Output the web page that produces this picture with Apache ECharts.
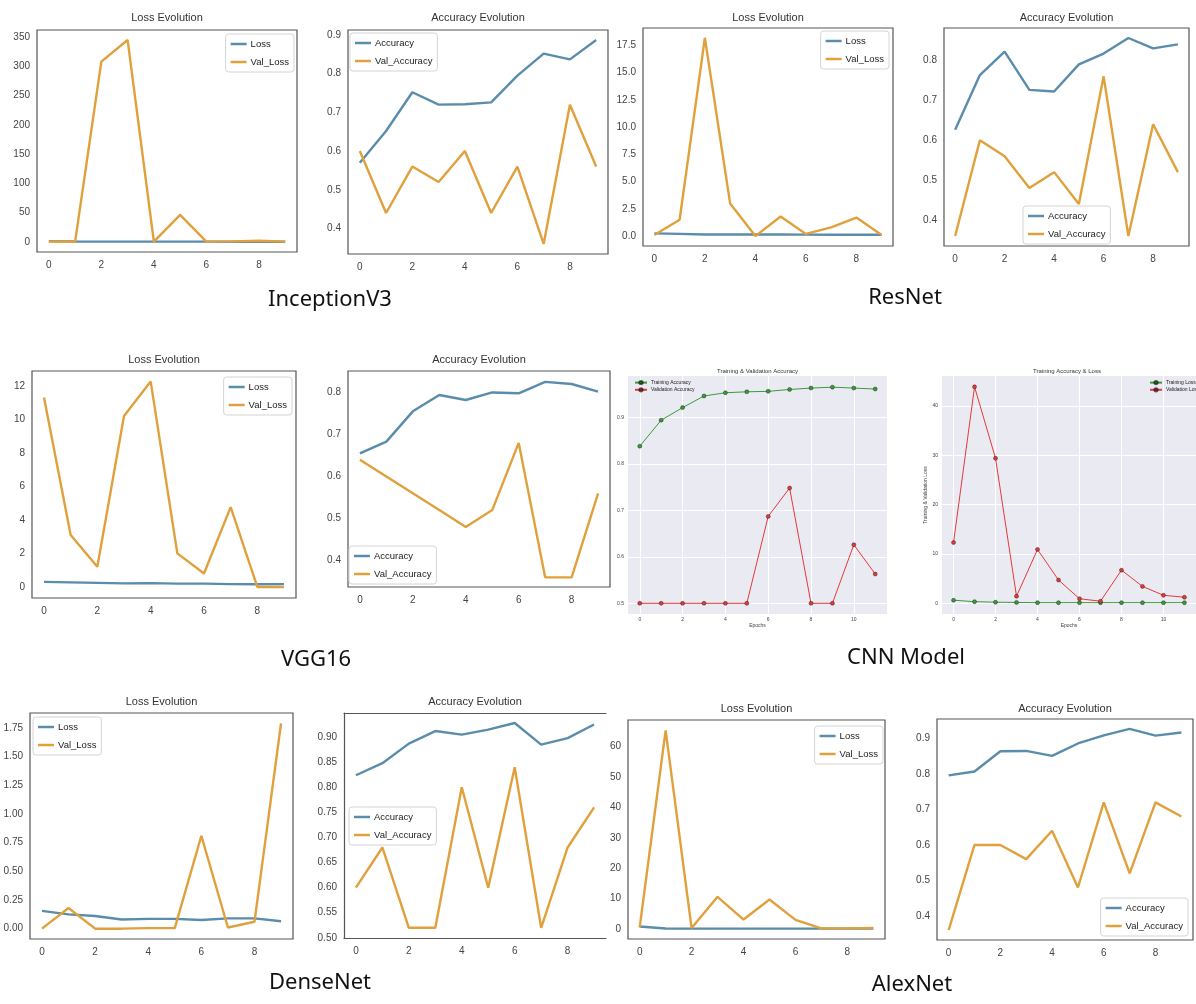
<!DOCTYPE html>
<html>
<head>
<meta charset="utf-8">
<script src="https://cdn.jsdelivr.net/npm/echarts@6/dist/echarts.min.js"></script>
<style>
  html, body { margin: 0; padding: 0; background: #fff; }
  #main { width: 1196px; height: 1004px; }
</style>
</head>
<body>
<div id="main"></div>
<script>
// epochs on the x axis
const epochs10 = [0, 1, 2, 3, 4, 5, 6, 7, 8, 9];
const epochs12 = [0, 1, 2, 3, 4, 5, 6, 7, 8, 9, 10, 11];
const xTicks10 = [0, 2, 4, 6, 8];
const xTicks12 = [0, 2, 4, 6, 8, 10];

// InceptionV3
const inceptionLoss = [1.2, 0.6, 0.5, 0.5, 0.4, 0.4, 0.4, 0.3, 0.3, 0.3];
const inceptionValLoss = [0.6, 0.1, 308, 345, 0.3, 46, 0.4, 0.9, 1.8, 0.4];
const inceptionAcc = [0.57, 0.652, 0.752, 0.72, 0.721, 0.726, 0.795, 0.852, 0.837, 0.887];
const inceptionValAcc = [0.6, 0.44, 0.56, 0.52, 0.6, 0.44, 0.56, 0.36, 0.72, 0.56];
const inceptionLossTicks = [0, 50, 100, 150, 200, 250, 300, 350];
const inceptionAccTicks = [0.4, 0.5, 0.6, 0.7, 0.8, 0.9];

// ResNet
const resnetLoss = [0.25, 0.2, 0.15, 0.15, 0.15, 0.14, 0.13, 0.12, 0.12, 0.12];
const resnetValLoss = [0.1, 1.5, 18.2, 3.0, 0.0, 1.8, 0.2, 0.8, 1.7, 0.1];
const resnetAcc = [0.626, 0.763, 0.822, 0.726, 0.722, 0.79, 0.817, 0.856, 0.83, 0.84];
const resnetValAcc = [0.36, 0.6, 0.56, 0.48, 0.52, 0.44, 0.76, 0.36, 0.64, 0.52];
const resnetLossTicks = [0, 2.5, 5, 7.5, 10, 12.5, 15, 17.5];
const resnetAccTicks = [0.4, 0.5, 0.6, 0.7, 0.8];

// VGG16
const vggLoss = [0.3, 0.27, 0.24, 0.21, 0.23, 0.2, 0.2, 0.17, 0.16, 0.17];
const vggValLoss = [11.3, 3.1, 1.2, 10.2, 12.26, 2.0, 0.8, 4.76, 0.0, 0.0];
const vggAcc = [0.655, 0.683, 0.755, 0.794, 0.782, 0.8, 0.798, 0.825, 0.82, 0.802];
const vggValAcc = [0.64, 0.6, 0.56, 0.52, 0.48, 0.52, 0.68, 0.36, 0.36, 0.56];
const vggLossTicks = [0, 2, 4, 6, 8, 10, 12];
const vggAccTicks = [0.4, 0.5, 0.6, 0.7, 0.8];

// CNN model
const cnnAcc = [0.838, 0.894, 0.921, 0.946, 0.953, 0.955, 0.956, 0.96, 0.963, 0.965, 0.963, 0.961];
const cnnValAcc = [0.5, 0.5, 0.5, 0.5, 0.5, 0.5, 0.687, 0.748, 0.5, 0.5, 0.626, 0.563];
const cnnLoss = [0.6, 0.3, 0.2, 0.15, 0.1, 0.1, 0.1, 0.1, 0.1, 0.1, 0.1, 0.1];
const cnnValLoss = [12.3, 43.9, 29.4, 1.4, 10.9, 4.7, 0.9, 0.4, 6.7, 3.4, 1.6, 1.2];
const cnnAccTicks = [0.5, 0.6, 0.7, 0.8, 0.9];
const cnnLossTicks = [0, 10, 20, 30, 40];

// DenseNet
const densenetLoss = [0.155, 0.125, 0.11, 0.08, 0.085, 0.085, 0.075, 0.09, 0.09, 0.065];
const densenetValLoss = [0.0, 0.18, 0.0, 0.0, 0.005, 0.005, 0.81, 0.01, 0.06, 1.79];
const densenetAcc = [0.824, 0.848, 0.887, 0.912, 0.905, 0.915, 0.928, 0.885, 0.898, 0.925];
const densenetValAcc = [0.6, 0.68, 0.52, 0.52, 0.8, 0.6, 0.84, 0.52, 0.68, 0.76];
const densenetLossTicks = [0, 0.25, 0.5, 0.75, 1.0, 1.25, 1.5, 1.75];
const densenetAccTicks = [0.5, 0.55, 0.6, 0.65, 0.7, 0.75, 0.8, 0.85, 0.9];

// AlexNet
const alexnetLoss = [0.8, 0.15, 0.1, 0.1, 0.1, 0.1, 0.1, 0.1, 0.1, 0.1];
const alexnetValLoss = [0.5, 65.4, 0.3, 10.6, 3.1, 9.7, 3.0, 0.2, 0.2, 0.3];
const alexnetAcc = [0.796, 0.807, 0.864, 0.865, 0.851, 0.886, 0.909, 0.927, 0.908, 0.917];
const alexnetValAcc = [0.36, 0.6, 0.6, 0.56, 0.64, 0.48, 0.72, 0.52, 0.72, 0.68];
const alexnetLossTicks = [0, 10, 20, 30, 40, 50, 60];
const alexnetAccTicks = [0.4, 0.5, 0.6, 0.7, 0.8, 0.9];

const modelNames = ['InceptionV3', 'ResNet', 'VGG16', 'CNN Model', 'DenseNet', 'AlexNet'];

const BLUE = '#5a8cab';
const ORANGE = '#e0a03c';
const GREEN = '#3c9a3c';
const RED = '#e23a3a';
const FONT = 'Liberation Sans';

// layout of every small plot (legend: left or right edge, top)
const panels = [
  { box: [37, 30, 297, 252], titleY: 18, title: 'Loss Evolution', yRange: [-17.3, 362], yTicks: inceptionLossTicks, dec: 0,
    lines: [['Loss', inceptionLoss, BLUE], ['Val_Loss', inceptionValLoss, ORANGE]], legend: { right: 1196 - 294, top: 34 } },
  { box: [348, 30, 608, 254], titleY: 18, title: 'Accuracy Evolution', yRange: [0.334, 0.913], yTicks: inceptionAccTicks, dec: 1,
    lines: [['Accuracy', inceptionAcc, BLUE], ['Val_Accuracy', inceptionValAcc, ORANGE]], legend: { left: 350, top: 33 } },
  { box: [643, 28, 893, 246], titleY: 18, title: 'Loss Evolution', yRange: [-0.91, 19.1], yTicks: resnetLossTicks, dec: 1,
    lines: [['Loss', resnetLoss, BLUE], ['Val_Loss', resnetValLoss, ORANGE]], legend: { right: 1196 - 889, top: 31 } },
  { box: [944, 28, 1189, 246], titleY: 18, title: 'Accuracy Evolution', yRange: [0.335, 0.881], yTicks: resnetAccTicks, dec: 1,
    lines: [['Accuracy', resnetAcc, BLUE], ['Val_Accuracy', resnetValAcc, ORANGE]], legend: { left: 1023, top: 206 } },
  { box: [32, 371, 296, 598], titleY: 360, title: 'Loss Evolution', yRange: [-0.66, 12.88], yTicks: vggLossTicks, dec: 0,
    lines: [['Loss', vggLoss, BLUE], ['Val_Loss', vggValLoss, ORANGE]], legend: { right: 1196 - 292, top: 377 } },
  { box: [348, 371, 610, 587], titleY: 360, title: 'Accuracy Evolution', yRange: [0.337, 0.851], yTicks: vggAccTicks, dec: 1,
    lines: [['Accuracy', vggAcc, BLUE], ['Val_Accuracy', vggValAcc, ORANGE]], legend: { left: 349, top: 546 } },
  { cnn: true, box: [628, 376, 887, 614], titleY: 371, title: 'Training & Validation Accuracy', yRange: [0.477, 0.989], yTicks: cnnAccTicks, dec: 1,
    lines: [['Training Accuracy', cnnAcc, GREEN], ['Validation Accuracy', cnnValAcc, RED]], legend: { left: 631, top: 378 } },
  { cnn: true, box: [942, 376, 1203, 614], titleY: 371, titleX: 1067, title: 'Training Accuracy & Loss', yRange: [-2.2, 46.1], yTicks: cnnLossTicks, dec: 0,
    yName: 'Training & Validation Loss',
    lines: [['Training Loss', cnnLoss, GREEN], ['Validation Loss', cnnValLoss, RED]], legend: { left: 1146, top: 378 } },
  { box: [30, 713, 293, 939], titleY: 702, title: 'Loss Evolution', yRange: [-0.09, 1.88], yTicks: densenetLossTicks, dec: 2,
    lines: [['Loss', densenetLoss, BLUE], ['Val_Loss', densenetValLoss, ORANGE]], legend: { left: 33, top: 717 } },
  { box: [344, 713, 606, 938], openRight: true, titleY: 702, title: 'Accuracy Evolution', yRange: [0.4996, 0.948], yTicks: densenetAccTicks, dec: 2,
    lines: [['Accuracy', densenetAcc, BLUE], ['Val_Accuracy', densenetValAcc, ORANGE]], legend: { left: 349, top: 807 } },
  { box: [628, 720, 885, 939], titleY: 709, title: 'Loss Evolution', yRange: [-3.3, 68.8], yTicks: alexnetLossTicks, dec: 0,
    lines: [['Loss', alexnetLoss, BLUE], ['Val_Loss', alexnetValLoss, ORANGE]], legend: { right: 1196 - 883, top: 726 } },
  { box: [937, 719, 1193, 940], titleY: 709, title: 'Accuracy Evolution', yRange: [0.332, 0.955], yTicks: alexnetAccTicks, dec: 1,
    lines: [['Accuracy', alexnetAcc, BLUE], ['Val_Accuracy', alexnetValAcc, ORANGE]], legend: { right: 1196 - 1188, top: 898 } }
];

// where the model names sit under each pair of plots
const nameSpots = [[330, 300], [905, 298], [316, 660], [906, 658], [320, 983], [912, 985]];

const option = {
  animation: false,
  grid: [], xAxis: [], yAxis: [], series: [], legend: [], graphic: []
};

panels.forEach((p, i) => {
  const [x0, y0, x1, y1] = p.box;
  const cnn = !!p.cnn;
  const xs = cnn ? epochs12 : epochs10;
  const xTicks = cnn ? xTicks12 : xTicks10;
  const xRange = cnn ? [-0.55, 11.55] : [-0.45, 9.45];
  const spine = { show: !!p.openRight, onZero: false, lineStyle: { color: '#555', width: 1.2 } };

  option.grid.push({
    left: x0, top: y0, width: x1 - x0, height: y1 - y0,
    show: true,
    backgroundColor: cnn ? '#eaeaf2' : 'transparent',
    borderColor: '#555',
    borderWidth: (cnn || p.openRight) ? 0 : 1.2
  });

  option.xAxis.push({
    type: 'value', gridIndex: i, min: xRange[0], max: xRange[1],
    axisLine: spine,
    axisTick: { show: false, customValues: xTicks },
    axisLabel: { customValues: xTicks, color: '#444', fontSize: cnn ? 5 : 10, margin: cnn ? 3 : 8, fontFamily: FONT },
    splitLine: { show: cnn, lineStyle: { color: '#fff', width: 1 } },
    name: cnn ? 'Epochs' : '', nameLocation: 'middle', nameGap: 9,
    nameTextStyle: { fontSize: 5, color: '#444', fontFamily: FONT }
  });

  option.yAxis.push({
    type: 'value', gridIndex: i, min: p.yRange[0], max: p.yRange[1],
    axisLine: spine,
    axisTick: { show: false, customValues: p.yTicks },
    axisLabel: {
      customValues: p.yTicks, color: '#444', fontSize: cnn ? 5 : 10, margin: cnn ? 4 : 7, fontFamily: FONT,
      formatter: v => v.toFixed(p.dec)
    },
    splitLine: { show: cnn, lineStyle: { color: '#fff', width: 1 } },
    name: p.yName || '', nameLocation: 'middle', nameGap: 12,
    nameTextStyle: { fontSize: 5, color: '#444', fontFamily: FONT }
  });

  p.lines.forEach(([name, vals, color], k) => {
    option.series.push({
      type: 'line', name: name, xAxisIndex: i, yAxisIndex: i,
      data: xs.map((e, j) => [e, vals[j]]),
      symbol: cnn ? 'circle' : 'none', symbolSize: 4, showSymbol: cnn,
      lineStyle: { color: color, width: cnn ? 1 : 2.4 },
      itemStyle: { color: color, borderColor: 'rgba(0,0,0,0.6)', borderWidth: cnn ? 0.6 : 0 },
      silent: true, z: 2 + k
    });
  });

  option.legend.push(Object.assign({
    orient: 'vertical',
    data: p.lines.map(l => l[0]), selectedMode: false,
    icon: cnn ? undefined : 'rect',
    itemWidth: cnn ? 12 : 16, itemHeight: cnn ? 4 : 2.5, itemGap: cnn ? 2 : 8,
    textStyle: { fontSize: cnn ? 5 : 9.5, color: '#222', fontFamily: FONT, padding: [0, 0, 0, -1] },
    backgroundColor: cnn ? 'transparent' : '#fff',
    borderColor: '#d4d4d4', borderWidth: cnn ? 0 : 1, borderRadius: 3,
    padding: cnn ? [2, 3] : [5, 5]
  }, p.legend));

  option.graphic.push({
    type: 'text', x: p.titleX || (x0 + x1) / 2, y: p.titleY,
    style: {
      text: p.title, font: (cnn ? 6 : 11) + 'px "' + FONT + '"', fill: '#333',
      textAlign: 'center', textVerticalAlign: 'middle', align: 'center', verticalAlign: 'middle'
    }
  });
});

// the DenseNet accuracy plot has no right spine, so its top edge is an extra axis
const openIdx = panels.findIndex(p => p.openRight);
option.xAxis.push({
  type: 'value', gridIndex: openIdx, position: 'top', min: -0.45, max: 9.45,
  axisLine: { show: true, onZero: false, lineStyle: { color: '#555', width: 1.2 } },
  axisTick: { show: false }, axisLabel: { show: false }, splitLine: { show: false }
});

modelNames.forEach((name, i) => {
  option.graphic.push({
    type: 'text', x: nameSpots[i][0], y: nameSpots[i][1],
    style: {
      text: name, font: '22px "Noto Sans"', fill: '#111',
      textAlign: 'center', textVerticalAlign: 'middle', align: 'center', verticalAlign: 'middle'
    }
  });
});

const chart = echarts.init(document.getElementById('main'), null, { renderer: 'canvas' });
chart.setOption(option);
</script>
</body>
</html>
